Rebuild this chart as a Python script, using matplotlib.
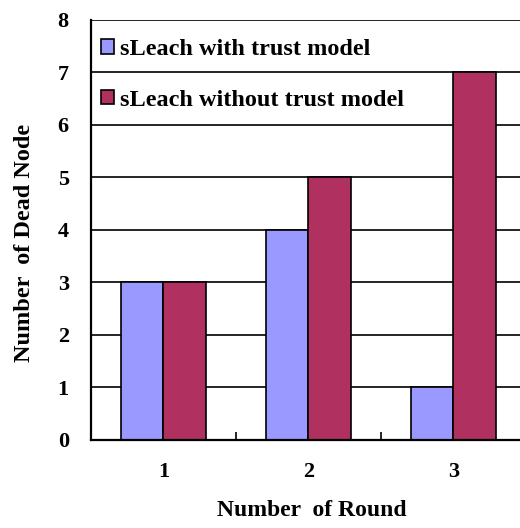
import numpy as np
import matplotlib.pyplot as plt
from matplotlib.ticker import FixedLocator

# Datos
rounds = ["1", "2", "3"]
with_trust = [3, 4, 1]
without_trust = [3, 5, 7]
series_labels = ["sLeach with trust model", "sLeach without trust model"]

BLUE = "#9999FF"
RED = "#B03060"

fig = plt.figure(figsize=(5.2, 5.28), dpi=100)
ax = fig.add_axes([0.175, 0.1667, 0.8365, 0.7955])

x = np.arange(len(rounds))
width = 0.29

ax.set_axisbelow(True)
ax.yaxis.grid(True, color="black", linewidth=1.2)

ax.bar(x - width / 2, with_trust, width, color=BLUE,
       edgecolor="black", linewidth=1.2, label=series_labels[0])
ax.bar(x + width / 2, without_trust, width, color=RED,
       edgecolor="black", linewidth=1.2, label=series_labels[1])

ax.set_xlim(-0.5, 2.5)
ax.set_ylim(0, 8)
ax.set_yticks(range(0, 9))
ax.set_xticks(x)
ax.set_xticklabels(rounds)
ax.xaxis.set_minor_locator(FixedLocator([0.5, 1.5]))
ax.tick_params(axis="x", which="major", length=0, pad=16)
ax.tick_params(axis="x", which="minor", direction="in", length=6, width=1.2)
ax.tick_params(axis="y", length=0, pad=16)

for lab in ax.get_xticklabels() + ax.get_yticklabels():
    lab.set_fontfamily("Liberation Serif")
    lab.set_fontweight("bold")
    lab.set_fontsize(16)

for side in ["top", "right"]:
    ax.spines[side].set_visible(False)
for side in ["left", "bottom"]:
    ax.spines[side].set_linewidth(1.6)

ax.set_xlabel("Number  of Round", fontfamily="Liberation Serif",
              fontweight="bold", fontsize=17)
ax.xaxis.set_label_coords(0.507, -0.142)
ax.set_ylabel("Number  of Dead Node", fontfamily="Liberation Serif",
              fontweight="bold", fontsize=17.5)
ax.yaxis.set_label_coords(-0.128, 0.469)

ax.legend(loc="upper left", bbox_to_anchor=(0.0115, 0.966), frameon=False,
          prop={"family": "Liberation Serif", "weight": "bold", "size": 17.5},
          handlelength=0.55, handleheight=0.55, handletextpad=0.25,
          labelspacing=1.22, borderaxespad=0.0, borderpad=0.2)

fig.savefig("out.png", dpi=100)
